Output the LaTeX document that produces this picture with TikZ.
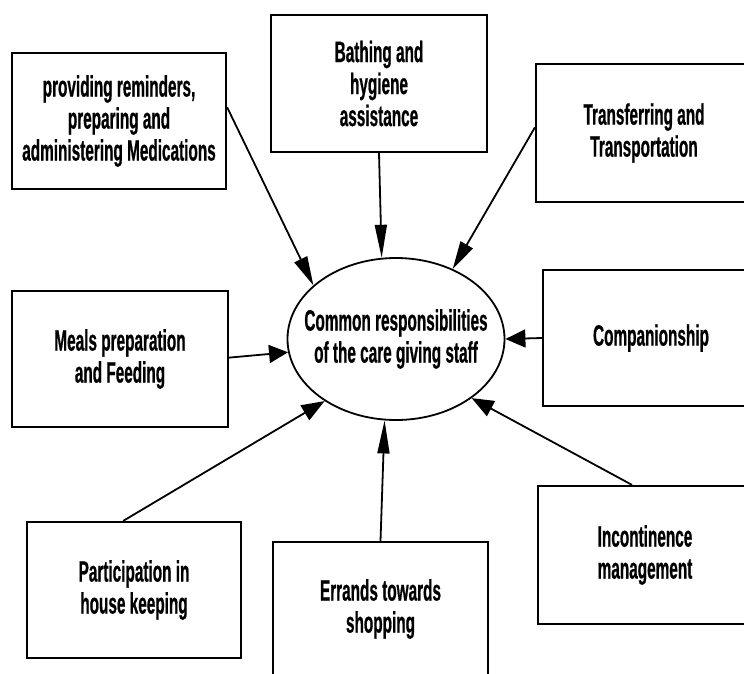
\documentclass[tikz,border=0pt]{standalone}
\usepackage{fontspec}
\newfontfamily\lblfont{Liberation Sans}[FakeStretch=0.52, FakeBold=0.6]
\usetikzlibrary{arrows.meta,calc,shapes.geometric}

\tikzset{
  lbl/.style={font=\lblfont\bfseries\fontsize{29.5}{32}\selectfont, align=center, text=black},
  taskbox/.style={lbl, draw=black, line width=2.2pt, inner sep=0pt, rectangle},
  hubshape/.style={draw=black, line width=1.8pt, ellipse, inner sep=0pt,
                   minimum width=217pt, minimum height=162pt},
  feed/.style={line width=1.8pt, draw=black},
}

\begin{document}
\begin{tikzpicture}[x=1pt, y=-1pt]
  \clip (0,0) rectangle (744,673);
  \fill[white] (0,0) rectangle (744,673);

  % central node: outline and its caption
  \node[hubshape] (hub) at (396,339) {};
  \node[lbl] (hubtext) at (hub.center) {Common responsibilities\\of the care giving staff};

  % surrounding tasks
  \node[taskbox, minimum width=214pt, minimum height=136pt] (med) at (119,121)
    {providing reminders,\\preparing and\\administering Medications};
  \node[taskbox, minimum width=216pt, minimum height=137pt] (bath) at (379,83.5)
    {Bathing and\\hygiene\\assistance};
  \node[taskbox, minimum width=216pt, minimum height=138pt] (trans) at (644,133)
    {Transferring and\\Transportation};
  \node[taskbox, minimum width=216pt, minimum height=136pt] (meals) at (120,359)
    {Meals preparation\\and Feeding};
  \node[taskbox, minimum width=216pt, minimum height=136pt] (comp) at (651,338)
    {Companionship};
  \node[taskbox, minimum width=214pt, minimum height=136pt] (part) at (134,590)
    {Participation in\\house keeping};
  \node[taskbox, minimum width=215pt, minimum height=134pt] (errands) at (380.5,609)
    {Errands towards\\shopping};
  \node[taskbox, minimum width=214pt, minimum height=138pt] (incont) at (645,555)
    {Incontinence\\management};

  % arrows into the central node
  \draw[feed, -{Triangle[length=29pt,width=14pt]}]
    ($(med.north east)!0.40!(med.south east)$) -- (hub.147);
  \draw[feed, -{Triangle[length=33pt,width=12pt]}]
    (bath.south) -- (hub.100);
  \draw[feed, -{Triangle[length=28pt,width=14pt]}]
    ($(trans.north west)!0.46!(trans.south west)$) -- (hub.51);
  \draw[feed, -{Triangle[length=19pt,width=18pt]}]
    ($(meals.north east)!0.49!(meals.south east)$) -- (hub.187);
  \draw[feed, -{Triangle[length=20pt,width=18pt]}]
    (comp.west) -- (hub.east);
  \draw[feed, -{Triangle[length=23pt,width=17pt]}]
    ($(part.north west)!0.45!(part.north east)$) -- (hub.221);
  \draw[feed, -{Triangle[length=33pt,width=12pt]}]
    (errands.north) -- (hub.262);
  \draw[feed, -{Triangle[length=22pt,width=17pt]}]
    ($(incont.north west)!0.44!(incont.north east)$) -- (hub.322);
\end{tikzpicture}
\end{document}
